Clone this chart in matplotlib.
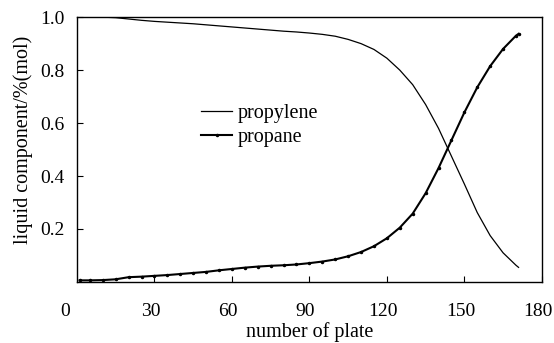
import matplotlib
matplotlib.use("Agg")
import matplotlib.pyplot as plt
import matplotlib.transforms as mtransforms

plt.rcParams['font.family'] = ['Liberation Serif', 'DejaVu Serif']

plates = [1, 5, 10, 15, 20, 25, 30, 35, 40, 45, 50, 55, 60, 65, 70, 75, 80, 85,
          90, 95, 100, 105, 110, 115, 120, 125, 130, 135, 140, 145, 150, 155,
          160, 165, 170, 171]
propylene = [1.0, 1.0, 1.0, 0.998, 0.993, 0.988, 0.984, 0.981, 0.978, 0.975,
             0.971, 0.967, 0.963, 0.959, 0.955, 0.951, 0.947, 0.944, 0.940,
             0.935, 0.928, 0.916, 0.900, 0.878, 0.845, 0.800, 0.745, 0.670,
             0.580, 0.475, 0.370, 0.262, 0.175, 0.110, 0.063, 0.055]
propane = [0.006, 0.006, 0.007, 0.010, 0.018, 0.020, 0.023, 0.026, 0.030,
           0.034, 0.038, 0.044, 0.049, 0.054, 0.058, 0.061, 0.063, 0.066,
           0.071, 0.077, 0.085, 0.097, 0.113, 0.135, 0.165, 0.205, 0.258,
           0.335, 0.430, 0.535, 0.640, 0.735, 0.815, 0.880, 0.930, 0.937]

xticks = [30, 60, 90, 120, 150, 180]
yticks = [0.2, 0.4, 0.6, 0.8, 1.0]

FS = 14.5
TFS = 14

fig = plt.figure(figsize=(5.54, 3.43), dpi=100)
ax = fig.add_axes([0.139, 0.178, 0.839, 0.772])

ax.plot(plates, propylene, color='black', lw=0.9, label='propylene')
ax.plot(plates, propane, color='black', lw=1.5, marker='.', markersize=3,
        label='propane')

ax.set_xlim(0, 180)
ax.set_ylim(0, 1.0)
ax.set_xticks(xticks)
ax.set_xticklabels([str(t) for t in xticks])
ax.set_yticks(yticks)
ax.set_yticklabels([f"{t:.1f}" for t in yticks])
ax.tick_params(direction='in', length=4, width=0.8, labelsize=TFS)
ax.tick_params(axis='x', pad=15)
ax.tick_params(axis='y', pad=9)
offset = mtransforms.ScaledTranslation(-4 / 100, 0, fig.dpi_scale_trans)
for lab in ax.get_xticklabels():
    lab.set_transform(lab.get_transform() + offset)
ax.text(-4.5, -0.079, '0', transform=ax.transData, fontsize=TFS,
        ha='center', va='top', clip_on=False)
for s in ax.spines.values():
    s.set_linewidth(1.0)

ax.set_xlabel('number of plate', fontsize=FS, labelpad=2)
ax.set_ylabel('liquid component/%(mol)', fontsize=FS)
ax.yaxis.set_label_coords(-0.094, 0.538)

leg = ax.legend(loc='upper left', bbox_to_anchor=(0.245, 0.71), frameon=False,
                fontsize=FS, handlelength=1.55, handletextpad=0.25,
                labelspacing=0.22, borderpad=0)

fig.savefig('out.png', dpi=100)
